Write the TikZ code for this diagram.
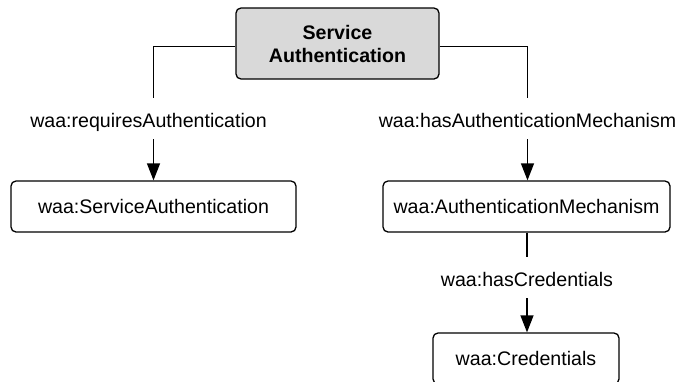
\documentclass[tikz,border=0pt]{standalone}
\usepackage{fontspec}
\setmainfont{Liberation Sans}
\usetikzlibrary{arrows.meta}
\definecolor{boxgray}{HTML}{D9D9D9}
\begin{document}
\begin{tikzpicture}[x=1pt,y=-1pt,
  txt/.style={font=\fontsize{19.6}{23}\selectfont},
  box/.style={draw, line width=1.3pt, rounded corners=5pt, inner sep=0pt, minimum height=51pt, txt},
  lbl/.style={inner xsep=0pt, inner ysep=12pt, text height=17pt, text depth=0pt, txt},
  conn/.style={line width=1.3pt},
  arr/.style={conn, -{Triangle[length=17pt,width=13pt]}}]
\useasboundingbox (0,0) rectangle (678,381);
\node[box, fill=boxgray, minimum width=203pt, minimum height=71pt, align=center, font=\bfseries\fontsize{19.6}{23}\selectfont] (top) at (337.5,43.5) {Service\\Authentication};
\node[box, minimum width=285pt] (sa) at (153.5,206.5) {waa:ServiceAuthentication};
\node[box, minimum width=287pt] (am) at (526.5,206.5) {waa:AuthenticationMechanism};
\node[box, minimum width=186pt] (cr) at (526,358.5) {waa:Credentials};
\node[lbl] (l1) at (148.5,118.5) {waa:requiresAuthentication};
\node[lbl] (l2) at (527.5,118.5) {waa:hasAuthenticationMechanism};
\node[lbl] (l3) at (527,277.5) {waa:hasCredentials};
\draw[conn] ([yshift=-3pt]top.west) -| (l1.north -| sa.north);
\draw[arr] (l1.south -| sa.north) -- (sa.north);
\draw[conn] ([yshift=-3pt]top.east) -| (l2.north);
\draw[arr] (l2.south) -- (l2.south |- am.north);
\draw[conn] (l3.north |- am.south) -- (l3.north);
\draw[arr] (l3.south) -- (l3.south |- cr.north);
\end{tikzpicture}
\end{document}
